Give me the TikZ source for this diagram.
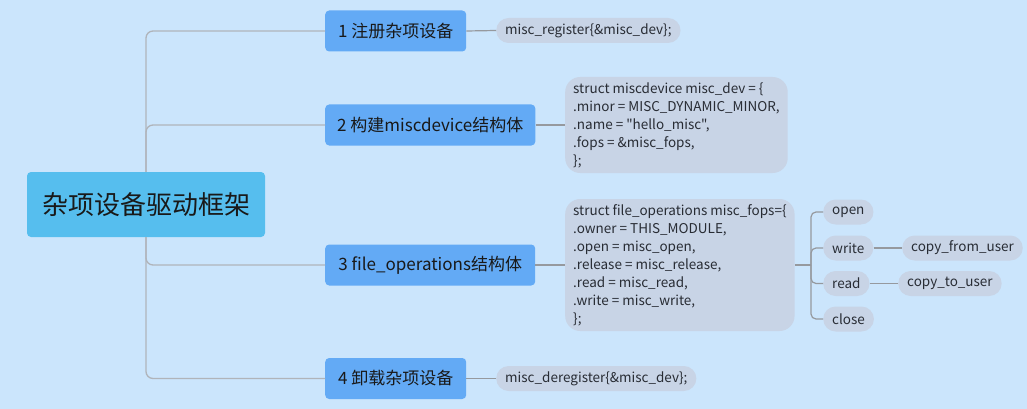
\documentclass[tikz,border=0pt]{standalone}
\usepackage{fontspec}
\setmainfont{Noto Sans CJK SC}[Ligatures=TeXOff]
\definecolor{bg}{RGB}{203,229,252}
\definecolor{rootc}{RGB}{86,190,238}
\definecolor{branchc}{RGB}{99,170,245}
\definecolor{leafc}{RGB}{200,212,230}
\definecolor{linec}{RGB}{176,180,186}
\definecolor{txt}{RGB}{25,25,25}
\definecolor{ltxt}{RGB}{40,44,52}
\begin{document}
\begin{tikzpicture}[x=1pt,y=-1pt,
 rootbox/.style={fill=rootc, rounded corners=4pt, minimum width=238pt, minimum height=65pt, font=\fontsize{26}{30}\selectfont, text=txt, inner sep=0pt},
 branchbox/.style={fill=branchc, rounded corners=4pt, minimum height=41pt, anchor=west, font=\fontsize{17}{20}\selectfont, inner xsep=12pt, inner ysep=0pt, text=txt},
 pill/.style={fill=leafc, rounded corners=12.5pt, minimum height=25pt, anchor=west, font=\fontsize{13.5}{16}\selectfont, inner xsep=9pt, inner ysep=0pt, text=ltxt},
 block/.style={fill=leafc, rounded corners=15pt, anchor=west, font=\fontsize{13.5}{18}\selectfont, align=left, inner xsep=8pt, inner ysep=0pt, text=ltxt},
 conn/.style={draw=linec, line width=1.3pt, rounded corners=7pt},
 subconn/.style={draw=linec!85!black, line width=1.2pt, rounded corners=5pt}]
\useasboundingbox (0,0) rectangle (1027,409);
\fill[bg] (0,0) rectangle (1027,409);

\node[rootbox] (root) at (146,204.5) {杂项设备驱动框架};

\node[branchbox, minimum width=141pt] (b1) at (325,31) {1 注册杂项设备};
\node[branchbox, minimum width=210pt] (b2) at (325,125) {2 构建miscdevice结构体};
\node[branchbox, minimum width=210pt] (b3) at (325,265) {3 file\_operations结构体};
\node[branchbox, minimum width=141pt] (b4) at (325,378.5) {4 卸载杂项设备};

\node[pill] (l1) at (496,30.5) {misc\_register\{\&misc\_dev\};};
\node[block, minimum height=96pt] (l2) at (565,125) {struct miscdevice misc\_dev = \{\\.minor = MISC\_DYNAMIC\_MINOR,\\.name = "hello\_misc",\\.fops = \&misc\_fops,\\\};};
\node[block, minimum height=132pt] (l3) at (565,265) {struct file\_operations misc\_fops=\{\\.owner = THIS\_MODULE,\\.open = misc\_open,\\.release = misc\_release,\\.read = misc\_read,\\.write = misc\_write,\\\};};
\node[pill] (l4) at (496,378.5) {misc\_deregister\{\&misc\_dev\};};

\node[pill] (open) at (823,212) {open};
\node[pill] (write) at (823,248) {write};
\node[pill] (read) at (823,283.5) {read};
\node[pill] (close) at (823,319) {close};
\node[pill] (cfu) at (902,248) {copy\_from\_user};
\node[pill] (ctu) at (898,283.5) {copy\_to\_user};

\coordinate (j) at (811,265);

\draw[conn] (root.north) |- (b1.west);
\draw[conn] (root.north) |- (b2.west);
\draw[conn] (root.south) |- (b3.west);
\draw[conn] (root.south) |- (b4.west);

\draw[subconn] (b1.east) -- (l1.west);
\draw[subconn] (b2.east) -- (l2.west);
\draw[subconn] (b3.east) -- (l3.west);
\draw[subconn] (b4.east) -- (l4.west);

\draw[subconn] (l3.east) -- (j);
\draw[subconn] (j) |- (open.west);
\draw[subconn] (j) |- (write.west);
\draw[subconn] (j) |- (read.west);
\draw[subconn] (j) |- (close.west);
\draw[subconn] (write.east) -- (cfu.west);
\draw[subconn] (read.east) -- (ctu.west);
\end{tikzpicture}
\end{document}
